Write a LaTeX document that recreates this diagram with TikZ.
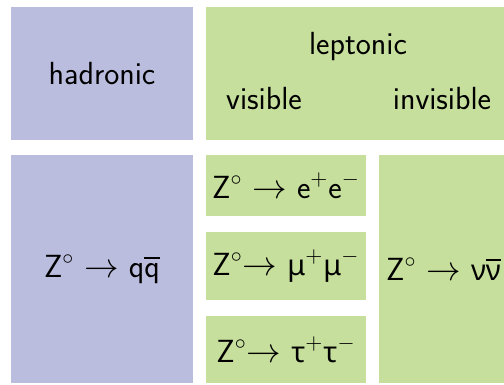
\documentclass[tikz,border=0pt]{standalone}
\usepackage{amsmath}
\usepackage{fontspec}
\newfontfamily\grk[Scale=0.9]{Noto Sans}
\usepackage{tikz}
\usetikzlibrary{positioning}
\definecolor{hadcol}{RGB}{187,189,222}
\definecolor{lepcol}{RGB}{198,223,156}
\newcommand{\Zo}{\ensuremath{\mathsf{Z}^{\circ}}}
\newcommand{\gk}[1]{\hbox{\grk #1}}
\tikzset{
  hadbox/.style={fill=hadcol, align=center, inner sep=0pt, font=\sffamily\fontsize{16}{19}\selectfont},
  lepbox/.style={fill=lepcol, align=center, inner sep=0pt, font=\sffamily\fontsize{16}{19}\selectfont},
  lbl/.style={anchor=base, inner sep=0pt, font=\sffamily\fontsize{16}{19}\selectfont}
}
\begin{document}
\begin{tikzpicture}[x=0.5pt, y=-0.5pt]
\useasboundingbox (0,0) rectangle (504,385);
% ---- header row ----
\node[hadbox, minimum width=91pt, minimum height=66.5pt] (hadhead) at (102,73.5) {hadronic};
\node[lepbox, minimum width=149pt, minimum height=66.5pt] (lephead) at (355,73.5) {};
\node[lbl] (leptonic) at (358,55) {leptonic};
\node[lbl] (visible) at (264,110) {visible};
\node[lbl] (invisible) at (442,110) {invisible};
% ---- decay row ----
\node[hadbox, minimum width=91pt, minimum height=114pt] (qq) at (102,269) {\Zo\ $\rightarrow$ q$\overline{\mathsf{q}}$};
\node[lepbox, minimum width=80pt, minimum height=30.5pt] (ee) at (286,185.5) {\Zo\ $\rightarrow$ e$^{+}$e$^{-}$};
\node[lepbox, minimum width=80pt, minimum height=34pt] (mumu) at (286,266) {\Zo$\rightarrow$ \gk{μ}$^{+}$\gk{μ}$^{-}$};
\node[lepbox, minimum width=80pt, minimum height=33.5pt] (tautau) at (286,349.5) {\Zo$\rightarrow$ \gk{τ}$^{+}$\gk{τ}$^{-}$};
\node[lepbox, minimum width=62.5pt, minimum height=114pt] (nunu) at (441.5,269) {\hspace{2pt}\Zo\ $\rightarrow$ \gk{ν}$\overline{\gk{ν}}$};
\end{tikzpicture}
\end{document}
